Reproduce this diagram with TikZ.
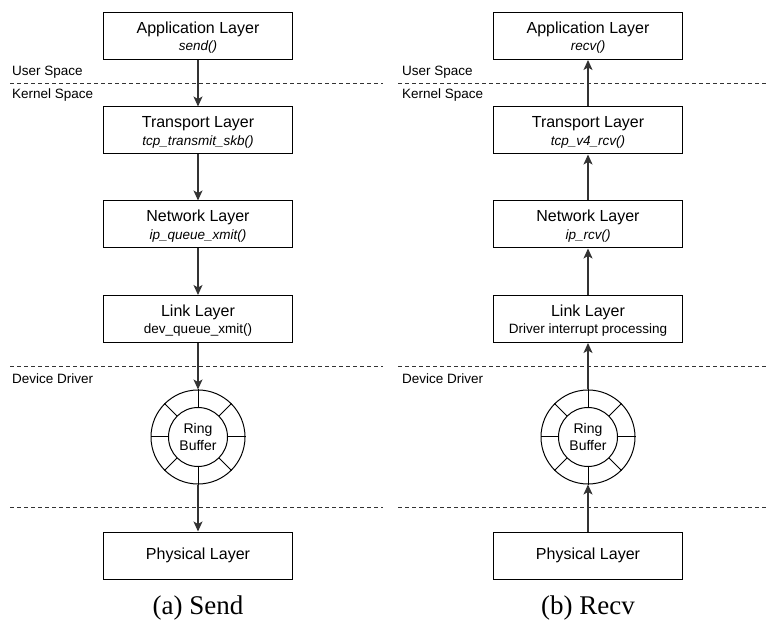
\documentclass[tikz,border=0pt]{standalone}
\usepackage{fontspec}
\setmainfont{Liberation Sans}
\newfontfamily\capfont{Liberation Serif}
\usetikzlibrary{arrows.meta}
\definecolor{linec}{HTML}{333333}
\tikzset{
  layerbox/.style={draw=black, line width=1pt, minimum width=189pt, minimum height=47pt, inner sep=0pt, align=center, font=\fontsize{16}{17.5}\selectfont},
  conn/.style={draw=linec, line width=1.2pt, -{Stealth[length=10pt,width=9pt,inset=2.5pt]}},
  sepline/.style={draw=linec, line width=0.9pt, dash pattern=on 4pt off 3pt},
  spacelabel/.style={anchor=west, inner sep=0pt, font=\fontsize{13.5}{16}\selectfont},
  ringouter/.style={draw=black, line width=1pt, circle, minimum size=94pt, inner sep=0pt},
  ringinner/.style={draw=black, line width=1pt, circle, minimum size=59pt, inner sep=0pt, align=center, font=\fontsize{14}{17}\selectfont},
  spoke/.style={draw=black, line width=1pt},
  caption/.style={font=\capfont\fontsize{27}{30}\selectfont, inner sep=0pt}
}
\newcommand{\ttl}[1]{\rule{0pt}{15pt}#1}
\newcommand{\sub}[1]{\\{\fontsize{13.5}{17.5}\selectfont\itshape #1}}
\newcommand{\subup}[1]{\\{\fontsize{13.5}{17.5}\selectfont #1}}
\begin{document}
\begin{tikzpicture}[x=1pt,y=-1pt]
\useasboundingbox (0,0) rectangle (769,628);
% separators
\foreach \yy/\nm in {83/a,366/b,507/c}{
  \coordinate (sepL\nm s) at (10,\yy);
  \coordinate (sepL\nm e) at (383,\yy);
  \coordinate (sepR\nm s) at (398,\yy);
  \coordinate (sepR\nm e) at (769,\yy);
  \draw[sepline] (sepL\nm s) -- (sepL\nm e);
  \draw[sepline] (sepR\nm s) -- (sepR\nm e);
}
% labels
\node[spacelabel] (usL) at (12,72) {User Space};
\node[spacelabel] (ksL) at (12,95) {Kernel Space};
\node[spacelabel] (ddL) at (12,379) {Device Driver};
\node[spacelabel] (usR) at (402,72) {User Space};
\node[spacelabel] (ksR) at (402,95) {Kernel Space};
\node[spacelabel] (ddR) at (402,379) {Device Driver};
% left column
\node[layerbox] (appL) at (198,36) {\ttl{Application Layer}\sub{send()}};
\node[layerbox] (trL) at (198,130.5) {\ttl{Transport Layer}\sub{tcp\_transmit\_skb()}};
\node[layerbox] (netL) at (198,224.5) {\ttl{Network Layer}\sub{ip\_queue\_xmit()}};
\node[layerbox] (linkL) at (198,319) {\ttl{Link Layer}\subup{dev\_queue\_xmit()}};
\node[ringouter] (ringL) at (198,437) {};
\node[ringinner] (rinL) at (198,437) {Ring\\Buffer};
\foreach \a in {0,45,90,135,180,225,270,315}{
  \draw[spoke] (rinL.\a) -- (ringL.\a);
}
\node[layerbox] (phL) at (198,555.5) {Physical Layer};
\node[caption] (capL) at (198,608) {(a) Send};
\draw[conn] (appL) -- (trL);
\draw[conn] (trL) -- (netL);
\draw[conn] (netL) -- (linkL);
\draw[conn] (linkL) -- (ringL.north);
\draw[conn] (ringL.south) -- (phL);
% right column
\node[layerbox] (appR) at (588,36) {\ttl{Application Layer}\sub{recv()}};
\node[layerbox] (trR) at (588,130.5) {\ttl{Transport Layer}\sub{tcp\_v4\_rcv()}};
\node[layerbox] (netR) at (588,224.5) {\ttl{Network Layer}\sub{ip\_rcv()}};
\node[layerbox] (linkR) at (588,319) {\ttl{Link Layer}\subup{Driver interrupt processing}};
\node[ringouter] (ringR) at (588,437) {};
\node[ringinner] (rinR) at (588,437) {Ring\\Buffer};
\foreach \a in {0,45,90,135,180,225,270,315}{
  \draw[spoke] (rinR.\a) -- (ringR.\a);
}
\node[layerbox] (phR) at (588,555.5) {Physical Layer};
\node[caption] (capR) at (588,608) {(b) Recv};
\draw[conn] (phR) -- (ringR.south);
\draw[conn] (ringR.north) -- (linkR);
\draw[conn] (linkR) -- (netR);
\draw[conn] (netR) -- (trR);
\draw[conn] (trR) -- (appR);
\end{tikzpicture}
\end{document}
